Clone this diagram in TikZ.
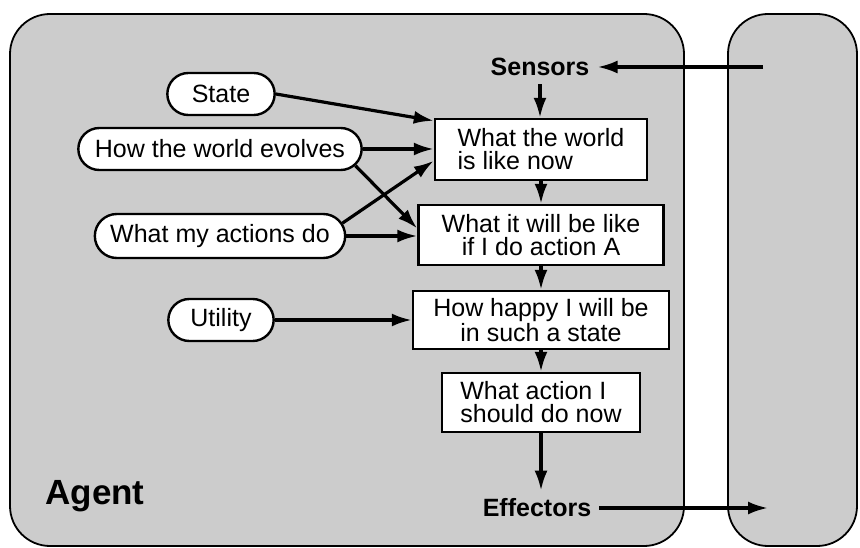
\documentclass[tikz,border=0pt]{standalone}
\usepackage{fontspec}
\setmainfont{Liberation Sans}
\usetikzlibrary{arrows.meta, shapes.misc}

\begin{document}
\begin{tikzpicture}[x=1pt, y=-1pt,
        panel/.style={draw, line width=1.8pt, fill=black!20,
            rounded corners=40pt},
        goal/.style={draw, line width=2.4pt, fill=white, rounded rectangle,
            minimum height=42pt, font=\fontsize{25}{23}\selectfont},
        stage/.style={draw, line width=2.4pt, fill=white,
            font=\fontsize{25}{23}\selectfont},
        port/.style={inner sep=8pt, font=\fontsize{25}{24}\selectfont\bfseries},
        flow/.style={-{Latex[length=20pt, width=13pt]}, line width=3.2pt}]
    \useasboundingbox (0, 0) rectangle (860, 548);

    % agent and environment
    \draw[panel] (10, 14) rectangle (684, 546);
    \draw[panel] (728, 14) rectangle (857, 546);
    \node[font=\fontsize{35}{35}\selectfont\bfseries] (agent) at (95, 496) {Agent};

    % what the agent knows
    \node[goal, minimum width=114pt] (state) at (221, 94) {State};
    \node[goal, minimum width=290pt] (evolves) at (220, 149)
        {How the world evolves};
    \node[goal, minimum width=257pt, minimum height=44pt] (actions)
        at (220, 236) {What my actions do};
    \node[goal, minimum width=112pt] (utility) at (221, 320) {Utility};

    % reasoning chain
    \node[stage, minimum width=212pt, minimum height=61pt, align=left] (world)
        at (541, 149.5) {What the world\\is like now};
    \node[stage, minimum width=245pt, minimum height=60pt, align=center]
        (future) at (541, 235) {What it will be like\\if I do action A};
    \node[stage, minimum width=256pt, minimum height=58pt, align=center]
        (happy) at (541, 320) {How happy I will be\\in such a state};
    \node[stage, minimum width=198pt, minimum height=59pt, align=left]
        (choice) at (541, 402.5) {What action I\\should do now};

    \node[port] (sensors) at (540, 67) {Sensors};
    \node[port] (effectors) at (537, 508) {Effectors};
    \coordinate (percept) at (763, 67);
    \coordinate (act) at (768, 508);

    \draw[flow] (percept) -- (sensors);
    \draw[flow] (sensors.south) -- (sensors.south |- world.north);
    \foreach \a/\b in {world/future, future/happy, happy/choice}{
        \draw[flow] (\a) -- (\b);
    }
    \draw[flow] (choice.south) -- (choice.south |- effectors.north);
    \draw[flow] (effectors) -- (act);

    \draw[flow] (state.east) -- (world.165);
    \draw[flow] (evolves.east) -- (evolves.east -| world.west);
    \draw[flow] (evolves.-7) -- (future.177);
    \draw[flow] (actions.6) -- (world.186);
    \draw[flow] (actions.east) -- (actions.east -| future.west);
    \draw[flow] (utility.east) -- (utility.east -| happy.west);
\end{tikzpicture}
\end{document}
